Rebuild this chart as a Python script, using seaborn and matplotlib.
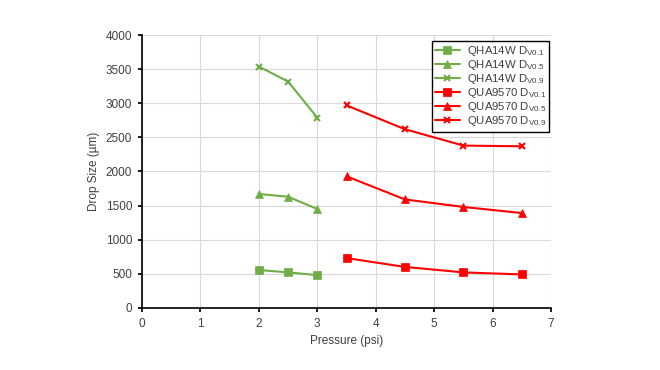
import matplotlib
matplotlib.use("Agg")
import matplotlib.pyplot as plt
import seaborn as sns
import pandas as pd

qha_p = [2.0, 2.5, 3.0]
qha_d01 = [555, 520, 480]
qha_d05 = [1670, 1630, 1450]
qha_d09 = [3540, 3320, 2790]

qua_p = [3.5, 4.5, 5.5, 6.5]
qua_d01 = [730, 600, 520, 490]
qua_d05 = [1930, 1590, 1480, 1390]
qua_d09 = [2970, 2620, 2380, 2370]

labels = ["QHA14W D$_{V0.1}$", "QHA14W D$_{V0.5}$", "QHA14W D$_{V0.9}$",
          "QUA9570 D$_{V0.1}$", "QUA9570 D$_{V0.5}$", "QUA9570 D$_{V0.9}$"]

sns.set_theme(style="white")
plt.rcParams['font.family'] = ['Liberation Sans', 'DejaVu Sans']
plt.rcParams['mathtext.fontset'] = 'custom'
plt.rcParams['mathtext.rm'] = 'Liberation Sans'
plt.rcParams['mathtext.it'] = 'Liberation Sans'

green = "#70AD47"
red = "#FF0000"
series = [
    (qha_p, qha_d01, labels[0], green, "s"),
    (qha_p, qha_d05, labels[1], green, "^"),
    (qha_p, qha_d09, labels[2], green, "x"),
    (qua_p, qua_d01, labels[3], red, "s"),
    (qua_p, qua_d05, labels[4], red, "^"),
    (qua_p, qua_d09, labels[5], red, "x"),
]

fig = plt.figure(figsize=(6.6, 3.7), dpi=100)
ax = fig.add_axes([0.215, 0.168, 0.62, 0.737])

for x, y, lab, c, m in series:
    df = pd.DataFrame({"p": x, "d": y})
    sns.lineplot(data=df, x="p", y="d", ax=ax, color=c, marker=m, label=lab,
                 linewidth=1.5, markersize=6 if m != "x" else 5,
                 markeredgewidth=1.5 if m == "x" else 0.5,
                 markeredgecolor=c)

ax.set_xlim(0, 7)
ax.set_ylim(0, 4000)
ax.set_xticks(range(0, 8))
ax.set_yticks(range(0, 4001, 500))
ax.grid(True, color="#d9d9d9", linewidth=0.8)
for s in ["top", "right"]:
    ax.spines[s].set_visible(False)
for s in ["left", "bottom"]:
    ax.spines[s].set_color("black")
    ax.spines[s].set_linewidth(1.2)
ax.tick_params(axis="both", labelsize=8.5, colors="#404040", length=3,
               direction="out", bottom=True, left=True, pad=4)
ax.tick_params(axis="both", color="black")
ax.set_xlabel("Pressure (psi)", fontsize=8.5, color="#404040")
ax.set_ylabel("Drop Size (µm)", fontsize=8.5, color="#404040")

leg = ax.legend(loc="upper right", bbox_to_anchor=(1.01, 1.0), fontsize=8.2,
                frameon=True, fancybox=False, edgecolor="black", framealpha=1,
                handlelength=2.2, labelspacing=0.0, borderpad=0.3,
                handletextpad=0.6)
leg.get_frame().set_linewidth(1.0)
for t in leg.get_texts():
    t.set_color("#404040")

fig.savefig("out.png", dpi=100, facecolor="white")
